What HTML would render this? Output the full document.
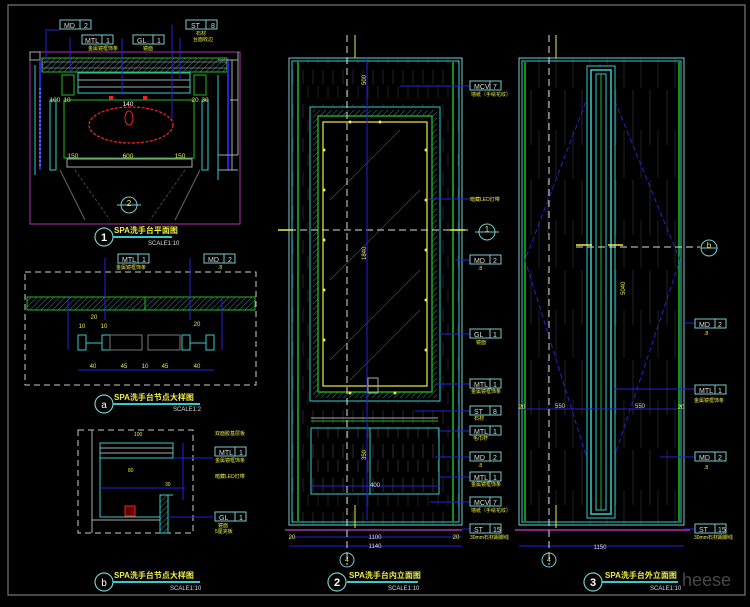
<!DOCTYPE html>
<html><head><meta charset="utf-8"><style>
html,body{margin:0;padding:0;background:#000;width:750px;height:607px;overflow:hidden}
svg{display:block}
text{font-family:"Liberation Sans","Noto Sans CJK SC",sans-serif}
</style></head><body>
<svg width="750" height="607" viewBox="0 0 750 607" xmlns="http://www.w3.org/2000/svg">
<defs>
<pattern id="hatch" width="4" height="4" patternUnits="userSpaceOnUse" patternTransform="rotate(45)"><line x1="0" y1="0" x2="0" y2="4" stroke="#3a8a8a" stroke-width="1"/></pattern>
<pattern id="wood" width="10" height="34" patternUnits="userSpaceOnUse"><line x1="3" y1="2" x2="3" y2="16" stroke="#3a3a3a" stroke-width="0.6"/><line x1="8" y1="18" x2="8" y2="30" stroke="#333" stroke-width="0.6"/></pattern>
<pattern id="wood2" width="17" height="90" patternUnits="userSpaceOnUse"><line x1="4" y1="0" x2="4" y2="55" stroke="#3a3a3a" stroke-width="0.6"/><line x1="12" y1="40" x2="12" y2="88" stroke="#333" stroke-width="0.6"/></pattern>
<g id="tagbox"><rect x="0" y="0" width="31" height="9" fill="none" stroke="#7cc" stroke-width="1"/><line x1="20" y1="0" x2="20" y2="9" stroke="#7cc"/></g>
</defs>
<rect width="750" height="607" fill="#000"/>
<rect x="8" y="5" width="737" height="590" fill="none" stroke="#777" stroke-width="1.2"/>

<!-- ============ PANEL 1 PLAN ============ -->
<g fill="none">
<rect x="30" y="52" width="210" height="172" stroke="#a3a" stroke-width="1"/>
<rect x="30" y="52" width="10" height="8" stroke="#aaa"/>
<rect x="42" y="58" width="185" height="14" stroke="#2b2" fill="url(#hatch)"/>
<rect x="42" y="62" width="185" height="6" stroke="#aaa" stroke-width="0.6"/>
<line x1="40" y1="60" x2="40" y2="170" stroke="#22d" stroke-width="2"/>
<line x1="228" y1="60" x2="228" y2="170" stroke="#22d" stroke-width="2"/>
<line x1="35" y1="65" x2="35" y2="175" stroke="#3cc"/>
<line x1="218" y1="75" x2="218" y2="180" stroke="#3cc"/>
<line x1="232" y1="60" x2="232" y2="170" stroke="#aaa"/>
<rect x="62" y="75" width="12" height="20" stroke="#2b2"/>
<rect x="194" y="75" width="12" height="20" stroke="#2b2"/>
<rect x="78" y="73" width="112" height="20" stroke="#3cc"/>
<line x1="78" y1="80" x2="190" y2="80" stroke="#aaa"/>
<line x1="78" y1="87" x2="190" y2="87" stroke="#aaa"/>
<rect x="64" y="100" width="130" height="58" stroke="#2b2"/>
<ellipse cx="131" cy="125" rx="42" ry="18" stroke="#e22" stroke-width="1.3" stroke-dasharray="3 1.5"/>
<ellipse cx="129" cy="118" rx="4" ry="7" stroke="#e22"/>
<rect x="67" y="159" width="125" height="8" stroke="#aaa"/>
<rect x="50" y="100" width="6" height="70" stroke="#3cc"/>
<rect x="202" y="100" width="6" height="70" stroke="#3cc"/>
<line x1="60" y1="170" x2="85" y2="220" stroke="#666"/>
<line x1="200" y1="170" x2="175" y2="220" stroke="#666"/>
<line x1="75" y1="170" x2="110" y2="220" stroke="#444" stroke-dasharray="3 2"/>
<line x1="185" y1="170" x2="150" y2="220" stroke="#444" stroke-dasharray="3 2"/>
<line x1="230" y1="100" x2="238" y2="100" stroke="#aaa"/>
<line x1="238" y1="52" x2="238" y2="155" stroke="#aaa"/>
<path d="M218 60 L238 60 M218 155 L238 155 M218 170 L238 170" stroke="#aaa"/>
<line x1="40" y1="88" x2="40" y2="168" stroke="#aaa" stroke-dasharray="2 2"/>
<circle cx="129" cy="205" r="8" stroke="#7cc"/>
<line x1="117" y1="205" x2="141" y2="205" stroke="#7cc"/>
<line x1="46" y1="30" x2="60" y2="30" stroke="#22d"/><line x1="46" y1="30" x2="46" y2="60" stroke="#22d"/>
<line x1="70" y1="38" x2="70" y2="75" stroke="#22d"/>
<line x1="122" y1="38" x2="122" y2="95" stroke="#22d"/>
<line x1="172" y1="25" x2="172" y2="120" stroke="#22d"/>
<line x1="180" y1="38" x2="180" y2="80" stroke="#22d"/>
</g>
<g font-size="6.5" fill="#ee4" text-anchor="middle">
<text x="128" y="106" fill="#fff">140</text><text x="55" y="102">100</text><text x="67" y="102">10</text><text x="195" y="102">20</text><text x="205" y="102">30</text>
<text x="73" y="158">150</text><text x="128" y="158">600</text><text x="180" y="158">150</text>
<text x="129" y="206" font-size="8">2</text>
</g>
<rect x="109" y="96" width="4" height="4" fill="#e22"/><rect x="143" y="96" width="4" height="4" fill="#e22"/>
<g font-size="7" fill="#ddd">
<use href="#tagbox" x="60" y="20"/><text x="64" y="28">MD</text><text x="84" y="28">2</text>
<use href="#tagbox" x="82" y="35"/><text x="85" y="43">MTL</text><text x="106" y="43">1</text>
<use href="#tagbox" x="133" y="35"/><text x="137" y="43">GL</text><text x="157" y="43">1</text>
<use href="#tagbox" x="186" y="20"/><text x="191" y="28">ST</text><text x="211" y="28">8</text>
</g>
<g font-size="5" fill="#ee4"><text x="88" y="50">金属镜框饰条</text><text x="143" y="50">镜面</text><text x="196" y="35">石材</text><text x="193" y="41">台面收边</text></g>
<circle cx="104" cy="237" r="9" fill="none" stroke="#7cc" stroke-width="1.2"/>
<text x="104" y="241" font-size="11" fill="#fff" text-anchor="middle" font-weight="bold">1</text>
<text x="114" y="233" font-size="8" fill="#ee4" font-weight="bold">SPA洗手台平面图</text>
<line x1="113" y1="237" x2="172" y2="237" stroke="#3cc" stroke-width="2"/>
<text x="148" y="245" font-size="6" fill="#ddd">SCALE1:10</text>

<!-- ============ PANEL a ============ -->
<g fill="none">
<rect x="25" y="272" width="231" height="113" stroke="#ccc" stroke-dasharray="6 4"/>
<rect x="27" y="297" width="228" height="13" stroke="#2b2" fill="url(#hatch)"/>
<line x1="145" y1="297" x2="145" y2="310" stroke="#2b2"/>
<rect x="78" y="335" width="8" height="15" stroke="#3cc"/><rect x="102" y="335" width="8" height="15" stroke="#3cc"/>
<rect x="110" y="335" width="32" height="15" stroke="#777"/><rect x="148" y="335" width="32" height="15" stroke="#777"/>
<rect x="182" y="335" width="8" height="15" stroke="#3cc"/><rect x="206" y="335" width="8" height="15" stroke="#3cc"/>
<line x1="86" y1="343" x2="102" y2="343" stroke="#3cc"/><line x1="190" y1="343" x2="206" y2="343" stroke="#3cc"/>
<line x1="78" y1="370" x2="214" y2="370" stroke="#22d"/>
<line x1="105" y1="258" x2="105" y2="320" stroke="#22d"/>
<line x1="190" y1="258" x2="190" y2="320" stroke="#22d"/>
<line x1="68" y1="298" x2="68" y2="350" stroke="#22d"/><line x1="222" y1="298" x2="222" y2="350" stroke="#22d"/>
</g>
<g font-size="6" fill="#ee4" text-anchor="middle">
<text x="93" y="368">40</text><text x="124" y="368">45</text><text x="145" y="368">10</text><text x="165" y="368">45</text><text x="197" y="368">40</text>
<text x="94" y="319">20</text><text x="197" y="326">20</text><text x="82" y="328">10</text><text x="104" y="328">10</text>
</g>
<g font-size="7" fill="#ddd">
<use href="#tagbox" x="118" y="254"/><text x="122" y="262">MTL</text><text x="142" y="262">1</text>
<use href="#tagbox" x="204" y="254"/><text x="208" y="262">MD</text><text x="228" y="262">2</text>
</g>
<g font-size="5" fill="#ee4"><text x="116" y="269">金属镜框饰条</text><text x="218" y="269">.8</text></g>
<circle cx="104" cy="404" r="9" fill="none" stroke="#7cc" stroke-width="1.2"/>
<text x="104" y="408" font-size="10" fill="#fff" text-anchor="middle">a</text>
<text x="114" y="400" font-size="8" fill="#ee4" font-weight="bold">SPA洗手台节点大样图</text>
<line x1="113" y1="404" x2="200" y2="404" stroke="#3cc" stroke-width="2"/>
<text x="173" y="411" font-size="6" fill="#ddd">SCALE1:2</text>

<!-- ============ PANEL b ============ -->
<g fill="none">
<rect x="78" y="430" width="115" height="103" stroke="#ccc" stroke-dasharray="6 4"/>
<line x1="92" y1="430" x2="92" y2="533" stroke="#aaa"/>
<rect x="100" y="443" width="73" height="15" stroke="#3cc"/>
<line x1="100" y1="448" x2="173" y2="448" stroke="#aaa"/><line x1="100" y1="453" x2="173" y2="453" stroke="#aaa"/>
<path d="M100 458 L100 517 L160 517 L160 495 L173 495" stroke="#3cc"/>
<rect x="160" y="495" width="8" height="38" stroke="#3cc" fill="url(#hatch)"/>
<line x1="92" y1="520" x2="160" y2="520" stroke="#aaa"/>
<rect x="125" y="506" width="10" height="10" stroke="#e22" fill="#600"/>
<line x1="100" y1="488" x2="185" y2="488" stroke="#22d"/>
<line x1="173" y1="458" x2="213" y2="458" stroke="#22d"/>
<line x1="170" y1="517" x2="213" y2="517" stroke="#22d"/>
<line x1="183" y1="443" x2="183" y2="500" stroke="#22d"/>
</g>
<g font-size="7" fill="#ddd">
<use href="#tagbox" x="215" y="447"/><text x="219" y="455">MTL</text><text x="239" y="455">1</text>
<use href="#tagbox" x="215" y="512"/><text x="219" y="520">GL</text><text x="239" y="520">1</text>
</g>
<g font-size="5" fill="#ee4"><text x="215" y="435">双面胶基层板</text><text x="215" y="462">金属镜框饰条</text><text x="215" y="478">暗藏LED灯带</text><text x="218" y="527">镜面</text><text x="215" y="533">5厘夹板</text><text x="134" y="436">100</text><text x="128" y="472">80</text><text x="165" y="486">30</text></g>
<circle cx="104" cy="582" r="9" fill="none" stroke="#7cc" stroke-width="1.2"/>
<text x="104" y="586" font-size="10" fill="#fff" text-anchor="middle">b</text>
<text x="114" y="578" font-size="8" fill="#ee4" font-weight="bold">SPA洗手台节点大样图</text>
<line x1="113" y1="582" x2="200" y2="582" stroke="#3cc" stroke-width="2"/>
<text x="170" y="590" font-size="6" fill="#ddd">SCALE1:10</text>

<!-- ============ PANEL 2 ============ -->
<g fill="none">
<rect x="289" y="58" width="173" height="467" fill="url(#wood)" stroke="#7cc"/>
<rect x="292" y="61" width="167" height="461" stroke="#3cc"/>
<line x1="298" y1="62" x2="298" y2="521" stroke="#2b2" stroke-width="1.5"/>
<line x1="453" y1="62" x2="453" y2="521" stroke="#2b2" stroke-width="1.5"/>
<rect x="310" y="107" width="130" height="294" fill="#000" stroke="#3cc"/>
<rect x="313" y="110" width="124" height="288" fill="url(#hatch)" stroke="none"/>
<rect x="318" y="116" width="114" height="276" fill="#000" stroke="#2b2" stroke-width="1.3"/>
<rect x="323" y="122" width="104" height="264" fill="#000" stroke="#ee4" stroke-width="1.2"/>
<g stroke="#555" stroke-width="0.6"><line x1="330" y1="200" x2="400" y2="130"/><line x1="330" y1="280" x2="420" y2="190"/><line x1="330" y1="360" x2="420" y2="270"/><line x1="350" y1="380" x2="420" y2="310"/></g>
<rect x="368" y="378" width="10" height="15" stroke="#aaa"/>
<line x1="311" y1="418" x2="438" y2="418" stroke="#aaa"/>
<line x1="311" y1="421" x2="438" y2="421" stroke="#2b2"/>
<rect x="311" y="428" width="128" height="66" stroke="#3cc" fill="url(#wood)"/>
<line x1="370" y1="428" x2="370" y2="494" stroke="#3cc"/>
<line x1="310" y1="486" x2="440" y2="486" stroke="#22d"/>
<line x1="285" y1="530" x2="462" y2="530" stroke="#a3a" stroke-width="1.5"/>
<line x1="289" y1="537" x2="462" y2="537" stroke="#22d"/>
<line x1="289" y1="546" x2="462" y2="546" stroke="#22d"/>
<line x1="347" y1="35" x2="347" y2="565" stroke="#ddd" stroke-dasharray="7 4"/>
<line x1="278" y1="230" x2="468" y2="230" stroke="#ddd" stroke-dasharray="7 4"/>
<line x1="355" y1="35" x2="355" y2="58" stroke="#ee4"/>
<line x1="355" y1="505" x2="355" y2="528" stroke="#ee4"/>
<line x1="278" y1="230" x2="293" y2="230" stroke="#ee4" stroke-width="1.5"/>
<line x1="450" y1="230" x2="465" y2="230" stroke="#ee4" stroke-width="1.5"/>
<line x1="367" y1="58" x2="367" y2="520" stroke="#22d"/>
<circle cx="487" cy="232" r="8" stroke="#7cc"/><line x1="475" y1="232" x2="499" y2="232" stroke="#7cc"/>
<circle cx="347" cy="560" r="7" stroke="#7cc"/>
<g stroke="#22d"><line x1="400" y1="86" x2="470" y2="86"/><line x1="427" y1="199" x2="470" y2="199"/><line x1="455" y1="260" x2="470" y2="260"/><line x1="440" y1="334" x2="470" y2="334"/><line x1="435" y1="384" x2="470" y2="384"/><line x1="415" y1="411" x2="470" y2="411"/><line x1="440" y1="431" x2="470" y2="431"/><line x1="435" y1="457" x2="470" y2="457"/><line x1="440" y1="477" x2="470" y2="477"/><line x1="430" y1="502" x2="470" y2="502"/><line x1="462" y1="529" x2="470" y2="529"/></g>
</g>
<g fill="#ee4"><circle cx="324" cy="150" r="1.5"/><circle cx="324" cy="190" r="1.5"/><circle cx="324" cy="240" r="1.5"/><circle cx="324" cy="290" r="1.5"/><circle cx="324" cy="340" r="1.5"/><circle cx="426" cy="150" r="1.5"/><circle cx="426" cy="200" r="1.5"/><circle cx="426" cy="250" r="1.5"/><circle cx="426" cy="300" r="1.5"/><circle cx="426" cy="350" r="1.5"/><circle cx="350" cy="122" r="1.5"/><circle cx="380" cy="122" r="1.5"/><circle cx="350" cy="393" r="1.5"/><circle cx="395" cy="393" r="1.5"/></g>
<g font-size="7" fill="#ddd">
<use href="#tagbox" x="470" y="81"/><text x="474" y="89">MCV</text><text x="493" y="89">7</text>
<use href="#tagbox" x="470" y="255"/><text x="474" y="263">MD</text><text x="493" y="263">2</text>
<use href="#tagbox" x="470" y="329"/><text x="474" y="337">GL</text><text x="493" y="337">1</text>
<use href="#tagbox" x="470" y="379"/><text x="474" y="387">MTL</text><text x="493" y="387">1</text>
<use href="#tagbox" x="470" y="406"/><text x="474" y="414">ST</text><text x="493" y="414">8</text>
<use href="#tagbox" x="470" y="426"/><text x="474" y="434">MTL</text><text x="493" y="434">1</text>
<use href="#tagbox" x="470" y="452"/><text x="474" y="460">MD</text><text x="493" y="460">2</text>
<use href="#tagbox" x="470" y="472"/><text x="474" y="480">MTL</text><text x="493" y="480">1</text>
<use href="#tagbox" x="470" y="497"/><text x="474" y="505">MCV</text><text x="493" y="505">7</text>
<use href="#tagbox" x="470" y="524"/><text x="474" y="532">ST</text><text x="493" y="532">15</text>
</g>
<g font-size="5" fill="#ee4"><text x="471" y="96">墙纸（手绘花纹）</text><text x="470" y="201">暗藏LED灯带</text><text x="478" y="270">.8</text><text x="476" y="344">镜面</text><text x="471" y="393">金属镜框饰条</text><text x="474" y="420">石材</text><text x="473" y="440">毛巾杆</text><text x="478" y="467">.8</text><text x="471" y="486">金属镜框饰条</text><text x="471" y="512">墙纸（手绘花纹）</text><text x="470" y="539">30mm石材踢脚线</text></g>
<g font-size="6" fill="#ee4" text-anchor="middle"><text x="292" y="539">20</text><text x="375" y="539" fill="#ddd">1100</text><text x="456" y="539">20</text><text x="375" y="548" fill="#ddd">1140</text><text x="375" y="487" fill="#ddd">400</text><text x="347" y="562" font-size="7">4</text><text x="487" y="232" font-size="8">1</text></g>
<g font-size="6" fill="#ee4"><text transform="translate(366,85) rotate(-90)">500</text><text transform="translate(366,260) rotate(-90)">1840</text><text transform="translate(366,460) rotate(-90)">350</text></g>
<circle cx="337" cy="582" r="9" fill="none" stroke="#7cc" stroke-width="1.2"/>
<text x="337" y="586" font-size="11" fill="#fff" text-anchor="middle" font-weight="bold">2</text>
<text x="349" y="578" font-size="8" fill="#ee4" font-weight="bold">SPA洗手台内立面图</text>
<line x1="347" y1="582" x2="418" y2="582" stroke="#3cc" stroke-width="2"/>
<text x="388" y="590" font-size="6" fill="#ddd">SCALE1:10</text>

<!-- ============ PANEL 3 ============ -->
<g fill="none">
<rect x="519" y="58" width="165" height="467" fill="url(#wood2)" stroke="#7cc"/>
<rect x="522" y="61" width="159" height="461" stroke="#3cc"/>
<line x1="525" y1="62" x2="525" y2="521" stroke="#2b2" stroke-width="1.5"/>
<line x1="679" y1="62" x2="679" y2="521" stroke="#2b2" stroke-width="1.5"/>
<path d="M600 65 L525 260 L600 500 L680 260 Z" stroke="#22c" stroke-dasharray="5 3"/>
<rect x="587" y="66" width="28" height="452" fill="#000" stroke="#3cc"/>
<rect x="591" y="70" width="20" height="444" stroke="#3cc" stroke-width="1.5"/>
<rect x="596" y="74" width="10" height="436" stroke="#3cc"/>
<line x1="601" y1="74" x2="601" y2="510" stroke="#2b2"/>
<line x1="515" y1="530" x2="690" y2="530" stroke="#a3a" stroke-width="1.5"/>
<line x1="519" y1="546" x2="684" y2="546" stroke="#22d"/>
<line x1="519" y1="409" x2="684" y2="409" stroke="#22d"/>
<line x1="549" y1="35" x2="549" y2="565" stroke="#ddd" stroke-dasharray="7 4"/>
<line x1="576" y1="247" x2="700" y2="247" stroke="#ddd" stroke-dasharray="7 4"/>
<line x1="556" y1="35" x2="556" y2="58" stroke="#ee4"/>
<line x1="556" y1="505" x2="556" y2="528" stroke="#ee4"/>
<line x1="576" y1="245" x2="592" y2="245" stroke="#ee4" stroke-width="1.5"/>
<line x1="608" y1="245" x2="623" y2="245" stroke="#ee4" stroke-width="1.5"/>
<circle cx="709" cy="248" r="8" stroke="#7cc"/><line x1="701" y1="248" x2="717" y2="248" stroke="#7cc"/>
<circle cx="549" cy="560" r="7" stroke="#7cc"/>
<g stroke="#22d"><line x1="684" y1="323" x2="695" y2="323"/><line x1="615" y1="389" x2="695" y2="389"/><line x1="660" y1="457" x2="695" y2="457"/><line x1="684" y1="529" x2="695" y2="529"/></g>
</g>
<g font-size="7" fill="#ddd">
<use href="#tagbox" x="695" y="319"/><text x="699" y="327">MD</text><text x="718" y="327">2</text>
<use href="#tagbox" x="695" y="385"/><text x="699" y="393">MTL</text><text x="718" y="393">1</text>
<use href="#tagbox" x="695" y="452"/><text x="699" y="460">MD</text><text x="718" y="460">2</text>
<use href="#tagbox" x="695" y="524"/><text x="699" y="532">ST</text><text x="718" y="532">15</text>
</g>
<g font-size="5" fill="#ee4"><text x="704" y="335">.8</text><text x="694" y="402">金属镜框饰条</text><text x="704" y="469">.8</text><text x="694" y="539">30mm石材踢脚线</text></g>
<g font-size="6" fill="#ee4" text-anchor="middle"><text x="522" y="409">20</text><text x="560" y="408" fill="#ddd">550</text><text x="640" y="408" fill="#ddd">550</text><text x="681" y="409">20</text><text x="600" y="549" fill="#ddd">1150</text><text x="549" y="562" font-size="7">4</text><text x="709" y="248" font-size="8">b</text></g>
<g font-size="6" fill="#ee4"><text transform="translate(625,295) rotate(-90)">5040</text></g>
<circle cx="593" cy="582" r="9" fill="none" stroke="#7cc" stroke-width="1.2"/>
<text x="593" y="586" font-size="11" fill="#fff" text-anchor="middle" font-weight="bold">3</text>
<text x="605" y="578" font-size="8" fill="#ee4" font-weight="bold">SPA洗手台外立面图</text>
<line x1="602" y1="582" x2="678" y2="582" stroke="#3cc" stroke-width="2"/>
<text x="650" y="590" font-size="6" fill="#ddd">SCALE1:10</text>
<text x="682" y="586" font-size="18" fill="#666" opacity="0.7">heese</text>
</svg>
</body></html>
